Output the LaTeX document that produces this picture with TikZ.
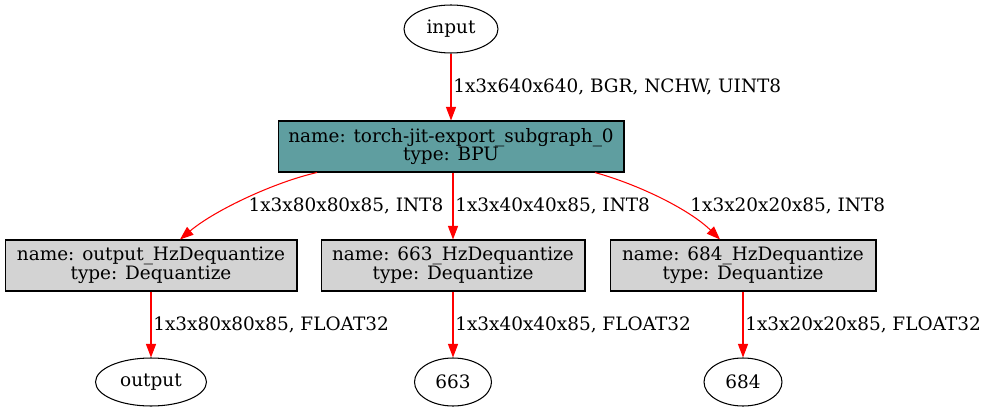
\documentclass[tikz,border=0pt]{standalone}
\usepackage{fontspec}
\setmainfont{DejaVu Serif}
\usepackage{xcolor}
\usetikzlibrary{shapes.geometric,arrows.meta,positioning}

\definecolor{bputeal}{HTML}{5F9EA0}
\definecolor{deqgray}{HTML}{D3D3D3}

\begin{document}
\begin{tikzpicture}[
    x=0.02cm, y=-0.02cm,
    font=\fontsize{10.5}{10.7}\selectfont,
    io/.style={ellipse, draw, line width=0.6pt, inner sep=0pt, minimum height=0.96cm},
    bpu/.style={rectangle, draw, line width=0.6pt, fill=bputeal, align=center, inner sep=0pt, minimum width=6.92cm, minimum height=1.02cm},
    deq/.style={rectangle, draw, line width=0.6pt, fill=deqgray, align=center, inner sep=0pt, minimum height=1.02cm},
    arrow/.style={-{Triangle[length=0.27cm, width=0.2cm]}, red, line width=0.6pt},
    lbl/.style={right, inner sep=1pt, text=black}
]
    \useasboundingbox (0,0) rectangle (990,412);

    % Input
    \node[io, minimum width=1.88cm] at (451,29) (in) {input};

    % BPU subgraph
    \node[bpu] at (451,146.5) (bpu) {name: torch-jit-export\_subgraph\_0\\type: BPU};

    % Dequantize nodes
    \node[deq, minimum width=5.84cm] at (151,265.5) (dq1) {name: output\_HzDequantize\\type: Dequantize};
    \node[deq, minimum width=5.28cm] at (453,265.5) (dq2) {name: 663\_HzDequantize\\type: Dequantize};
    \node[deq, minimum width=5.32cm] at (743,265.5) (dq3) {name: 684\_HzDequantize\\type: Dequantize};

    % Outputs
    \node[io, minimum width=2.22cm] at (151,382) (out1) {output};
    \node[io, minimum width=1.54cm] at (453,382) (out2) {663};
    \node[io, minimum width=1.56cm] at (743,382) (out3) {684};

    % Edges
    \draw[arrow] (in) -- node[lbl] {1x3x640x640, BGR, NCHW, UINT8} (bpu);
    \draw[arrow] ([xshift=-2.68cm]bpu.south) .. controls (275,182) and (215,210) .. node[lbl, pos=0.47, xshift=-0.08cm, yshift=-0.2cm] {1x3x80x80x85, INT8} ([xshift=0.58cm]dq1.north);
    \draw[arrow] (bpu.south -| dq2.north) -- node[lbl] {1x3x40x40x85, INT8} (dq2);
    \draw[arrow] ([xshift=2.88cm]bpu.south) .. controls (640,185) and (690,210) .. node[lbl, pos=0.5, xshift=0.5cm, yshift=-0.12cm] {1x3x20x20x85, INT8} ([xshift=-0.46cm]dq3.north);
    \draw[arrow] (dq1) -- node[lbl] {1x3x80x80x85, FLOAT32} (out1);
    \draw[arrow] (dq2) -- node[lbl] {1x3x40x40x85, FLOAT32} (out2);
    \draw[arrow] (dq3) -- node[lbl] {1x3x20x20x85, FLOAT32} (out3);
\end{tikzpicture}
\end{document}
